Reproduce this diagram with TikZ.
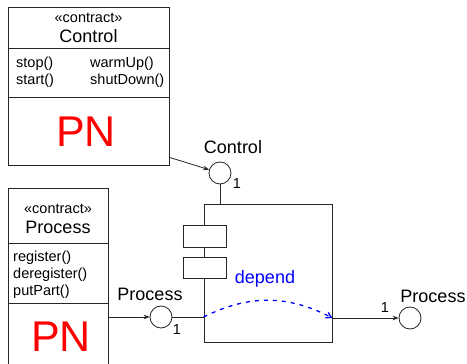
\documentclass[tikz,border=0pt]{standalone}
\usepackage{fontspec}
\setmainfont{Liberation Sans}
\usetikzlibrary{positioning,arrows.meta}

\begin{document}
\begin{tikzpicture}[x=1pt, y=-1pt,
    line/.style={draw=black!85, line width=0.8pt},
    box/.style={line, rectangle, inner sep=0pt, fill=white},
    port/.style={line, circle, minimum size=22pt, inner sep=0pt, fill=white},
    small/.style={font=\fontsize{14.5}{16}\selectfont, inner sep=0pt},
    big/.style={font=\fontsize{18}{20}\selectfont, inner sep=0pt},
    pn/.style={font=\fontsize{43}{46}\selectfont, text=red, inner sep=0pt},
    arrow/.style={line, -{Stealth[length=6pt, width=4.5pt]}}
]
\useasboundingbox (0,0) rectangle (467,364);

% Contract boxes
\node[box, minimum width=161pt, minimum height=158pt] (ctrlbox) at (88.5,86) {};
\draw[line] (8,48) -- (169,48);
\draw[line] (8,97) -- (169,97);
\node[small] (ctrlst) at (88.5,17.5) {«contract»};
\node[big] (ctrlname) at (88.5,36) {Control};
\node[small, anchor=west] (stop) at (16,64) {stop()};
\node[small, anchor=west] (start) at (16,81) {start()};
\node[small, anchor=west] (warm) at (90,64) {warmUp()};
\node[small, anchor=west] (shut) at (90,81) {shutDown()};
\node[pn] (ctrlpn) at (86,132) {PN};

\node[box, minimum width=100pt, minimum height=192pt] (procbox) at (58,284) {};
\draw[line] (8,243) -- (108,243);
\draw[line] (8,303) -- (108,303);
\node[small] (procst) at (58,209) {«contract»};
\node[big] (procname) at (58,227) {Process};
\node[small, anchor=west] (reg) at (13,258) {register()};
\node[small, anchor=west] (dereg) at (13,275) {deregister()};
\node[small, anchor=west] (put) at (13,292) {putPart()};
\node[pn] (procpn) at (61,337) {PN};

% Component with ports
\node[box, minimum width=128pt, minimum height=138pt] (comp) at (268,273) {};
\node[box, minimum width=43pt, minimum height=22pt] (tab1) at (204.5,236) {};
\node[box, minimum width=43pt, minimum height=21pt] (tab2) at (204.5,267.5) {};

\node[port] (ctrlport) at (220,173) {};
\node[port] (procin) at (161,317) {};
\node[port] (procout) at (410,318) {};

\node[big] (ctrllbl) at (233,147) {Control};
\node[small] (ctrlmul) at (237,184) {1};
\node[big] (inlbl) at (150,294) {Process};
\node[small] (inmul) at (177,330) {1};
\node[big] (outlbl) at (433,296) {Process};
\node[small] (outmul) at (385,308) {1};
\node[big, text=blue] (dep) at (265,279) {depend};

% Connectors
\draw[arrow] ([yshift=8pt]ctrlbox.south east) -- (ctrlport);
\draw[line] (ctrlport.south) -- (ctrlport.south |- comp.north);
\draw[arrow] (procbox.east |- procin) -- (procin.west);
\draw[line] (procin.east) -- (procin -| comp.west);
\draw[arrow] (comp.east |- procout) -- (procout.west);
\draw[blue, line width=1.3pt, dash pattern=on 4pt off 5pt, -{Straight Barb[length=5pt, width=6pt]}]
    (procin -| comp.west) to[bend left=27] (procout -| comp.east);

\end{tikzpicture}
\end{document}
